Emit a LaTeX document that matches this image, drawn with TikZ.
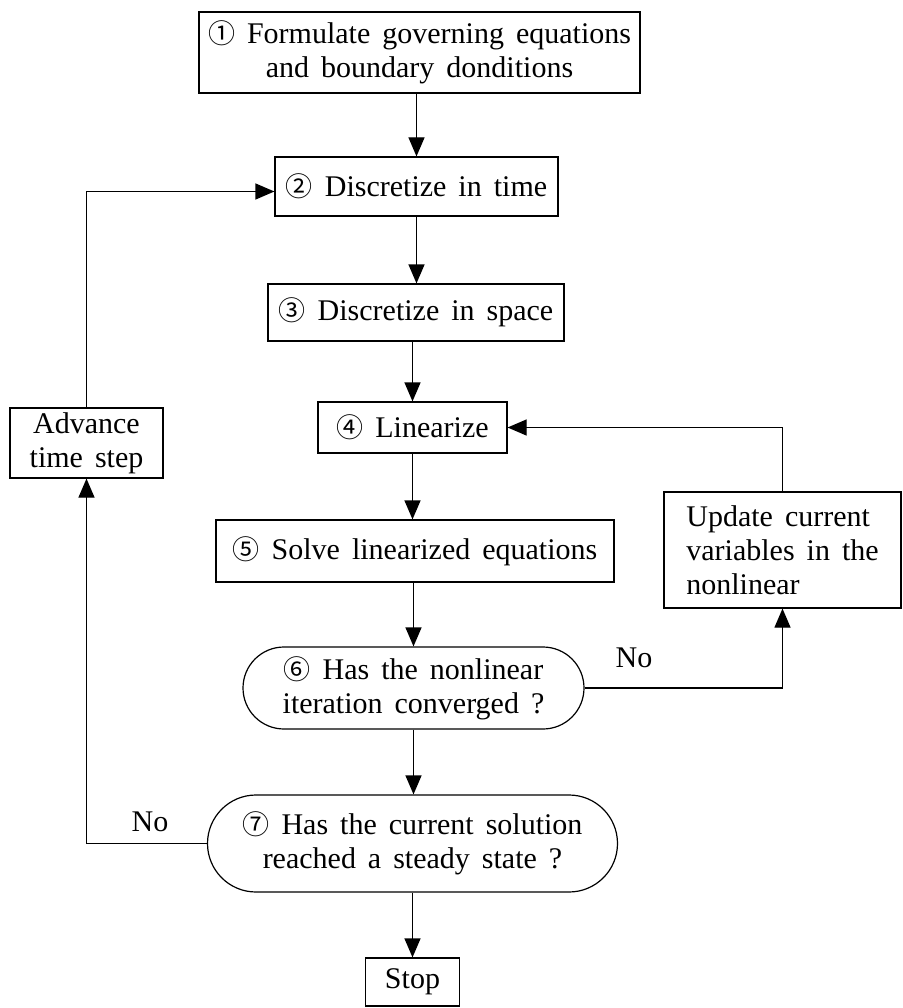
\documentclass[tikz,border=0pt]{standalone}
\usepackage{fontspec}
\setmainfont{Liberation Serif}[WordSpace=1.6]
\newfontfamily\circfont{Noto Sans CJK KR}
\usetikzlibrary{decorations.markings,shapes.misc,arrows.meta}
\newcommand{\cnum}[1]{{\circfont\fontsize{27}{27}\selectfont #1}}

\begin{document}
\begin{tikzpicture}[x=1pt, y=-1pt, line width=1.2pt,
  every node/.style={font=\fontsize{30}{34}\selectfont},
  block/.style={draw, rectangle, inner sep=0pt, align=center},
  decision/.style={draw, rounded rectangle, inner sep=0pt, align=center},
  flow/.style={decoration={markings,mark=at position 1 with {\arrow{Triangle[length=19pt,width=16pt]}}},postaction={decorate}}]
\useasboundingbox (0,0) rectangle (902,1008);
\node[block, minimum width=441pt, minimum height=81pt] (formulate) at (419.5,52.5) {\cnum{①} Formulate governing equations\\and boundary donditions};
\node[block, minimum width=283pt, minimum height=59pt] (disctime) at (416.5,186.5) {\cnum{②} Discretize in time};
\node[block, minimum width=296pt, minimum height=57pt] (discspace) at (416,312.5) {\cnum{③} Discretize in space};
\node[block, minimum width=189pt, minimum height=51pt] (linear) at (412.5,427.5) {\cnum{④} Linearize};
\node[block, minimum width=398pt, minimum height=62pt] (solve) at (415,551) {\cnum{⑤} Solve linearized equations};
\node[decision, minimum width=341pt, minimum height=82pt] (nonlin) at (413.5,688) {\cnum{⑥} Has the nonlinear\\iteration converged ?};
\node[decision, minimum width=410pt, minimum height=97pt] (steady) at (412.5,843.5) {\cnum{⑦} Has the current solution\\reached a steady state ?};
\node[block, minimum width=94pt, minimum height=48pt] (stop) at (412.5,982) {Stop};
\node[block, minimum width=153pt, minimum height=70pt] (advance) at (86.5,443) {Advance\\time step};
\node[block, align=left, minimum width=237pt, minimum height=116pt] (update) at (782.5,550) {Update current\\variables in the\\nonlinear};
\node (no1) at (634,658) {No};
\node (no2) at (150,822) {No};
% main column
\draw[flow] (disctime.north |- formulate.south) -- (disctime.north);
\draw[flow] (disctime.south) -- (disctime.south |- discspace.north);
\draw[flow] (linear.north |- discspace.south) -- (linear.north);
\draw[flow] (linear.south) -- (linear.south |- solve.north);
\draw[flow] (nonlin.north |- solve.south) -- (nonlin.north);
\draw[flow] (nonlin.south) -- (nonlin.south |- steady.north);
\draw[flow] (steady.south) -- (stop.north);
% loops
\draw[flow] (nonlin.east) -| (update.south);
\draw[flow] (update.north) |- (linear.east);
\draw[flow] (steady.west) -| (advance.south);
\draw[flow] (advance.north) |- ([yshift=-5pt]disctime.west);
\end{tikzpicture}
\end{document}
